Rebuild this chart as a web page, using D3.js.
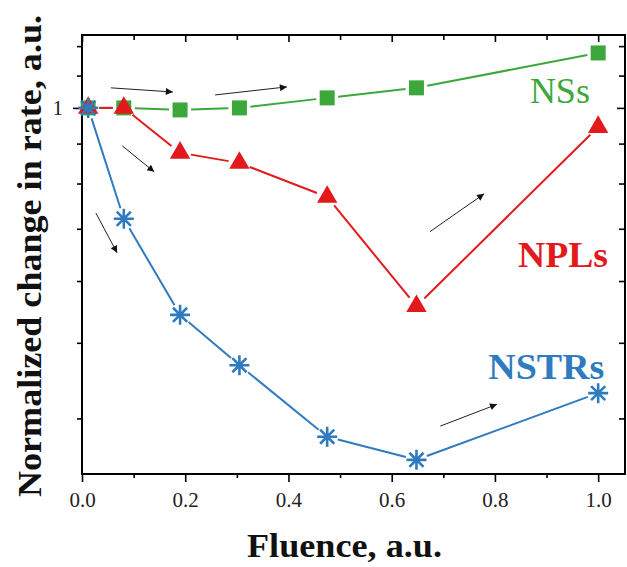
<!DOCTYPE html>
<html>
<head>
<meta charset="utf-8">
<script src="https://cdn.jsdelivr.net/npm/d3@7"></script>
<style>
  html, body { margin: 0; padding: 0; background: #fff; }
  svg { display: block; }
</style>
</head>
<body>
<svg id="chart" width="627" height="567"></svg>
<script>
// *************** DATA ***************
const fluence = [0.012, 0.081, 0.19, 0.305, 0.475, 0.648, 1.0];
const nsRate = [1.0, 1.0, 0.994, 1.0, 1.030, 1.061, 1.176];
const nplRate = [1.0, 1.0, 0.876, 0.850, 0.769, 0.557, 0.945];
const nstrRate = [1.0, 0.721, 0.543, 0.468, 0.379, 0.354, 0.431];

const xTicks = [0, 0.2, 0.4, 0.6, 0.8, 1.0];
const xMinorTicks = [0.1, 0.3, 0.5, 0.7, 0.9];
const yTicks = [1];
const yMinorTicks = [0.4, 0.5, 0.6, 0.7, 0.8, 0.9, 1.1, 1.2];

const seriesNames = ["NSs", "NPLs", "NSTRs"];

// arrows drawn in data space: [x0, y0, x1, y1]
const arrows = [
  [0.056, 1.061, 0.176, 1.048],
  [0.258, 1.039, 0.397, 1.064],
  [0.078, 0.894, 0.140, 0.828],
  [0.027, 0.733, 0.068, 0.652],
  [0.674, 0.694, 0.779, 0.776],
  [0.694, 0.391, 0.804, 0.417]
];

// label anchors (right end of text, baseline) in data space
const labelX = [0.984, 1.019, 1.012];
const labelY = [1.015, 0.625, 0.449];

// *************** CONSTANTS ***************
const margin = {top: 35, right: 2, bottom: 93, left: 82},
      width = 627,
      height = 567;

const colors = ["#3ca83c", "#e31a1c", "#2f7bc0"];
const serif = "'Liberation Serif', 'Times New Roman', serif";

const svg = d3.select("#chart");

const x = d3.scaleLinear()
            .domain([0, 1.052])
            .range([margin.left, width - margin.right]);

const y = d3.scaleLog()
            .domain([0.3395, 1.24])
            .range([height - margin.bottom, margin.top]);

// *************** AXES ***************
function styleAxis(g) {
  g.select(".domain").remove();
  g.selectAll("line").attr("stroke", "#000").attr("stroke-width", 1.6);
  g.selectAll("text")
   .attr("font-family", serif)
   .attr("font-size", "21px")
   .attr("fill", "#222");
}

const y0 = height - margin.bottom,
      x0 = margin.left,
      x1 = width - margin.right;

svg.append("g")
   .attr("transform", `translate(0,${y0})`)
   .call(d3.axisBottom(x).tickValues(xTicks).tickSize(8).tickPadding(10)
           .tickFormat(d3.format(".1f")))
   .call(styleAxis);

svg.append("g")
   .attr("transform", `translate(0,${y0})`)
   .call(d3.axisBottom(x).tickValues(xMinorTicks).tickSize(4).tickFormat(""))
   .call(styleAxis);

svg.append("g")
   .attr("transform", `translate(0,${margin.top})`)
   .call(d3.axisTop(x).tickValues(xTicks).tickSize(-7).tickFormat(""))
   .call(styleAxis);

svg.append("g")
   .attr("transform", `translate(0,${margin.top})`)
   .call(d3.axisTop(x).tickValues(xMinorTicks).tickSize(-5).tickFormat(""))
   .call(styleAxis);

svg.append("g")
   .attr("transform", `translate(${x0},0)`)
   .call(d3.axisLeft(y).tickValues(yTicks).tickSize(9).tickPadding(10)
           .tickFormat(d3.format("d")))
   .call(styleAxis);

svg.append("g")
   .attr("transform", `translate(${x0},0)`)
   .call(d3.axisLeft(y).tickValues(yMinorTicks).tickSize(5).tickFormat(""))
   .call(styleAxis);

svg.append("g")
   .attr("transform", `translate(${x1},0)`)
   .call(d3.axisRight(y).tickValues(yTicks).tickSize(-8).tickFormat(""))
   .call(styleAxis);

svg.append("g")
   .attr("transform", `translate(${x1},0)`)
   .call(d3.axisRight(y).tickValues(yMinorTicks).tickSize(-6).tickFormat(""))
   .call(styleAxis);

svg.append("rect")
   .attr("x", x0)
   .attr("y", margin.top)
   .attr("width", x1 - x0)
   .attr("height", y0 - margin.top)
   .attr("fill", "none")
   .attr("stroke", "#000")
   .attr("stroke-width", 2);

// *************** SERIES ***************
const series = [nsRate, nplRate, nstrRate].map((vals, i) => ({
  name: seriesNames[i],
  color: colors[i],
  points: fluence.map((f, j) => [x(f), y(vals[j])])
}));

const gap = 11;

function gappedSegments(points) {
  const segs = [];
  for (let i = 0; i < points.length - 1; i++) {
    const [ax, ay] = points[i], [bx, by] = points[i + 1];
    const len = Math.hypot(bx - ax, by - ay);
    if (len <= 2 * gap) continue;
    const ux = (bx - ax) / len, uy = (by - ay) / len;
    segs.push([ax + ux * gap, ay + uy * gap, bx - ux * gap, by - uy * gap]);
  }
  return segs;
}

const starR = 10, starD = starR * Math.SQRT1_2;
const starPath = `M0,${-starR}L0,${starR}M${-starR},0L${starR},0` +
                 `M${-starD},${-starD}L${starD},${starD}M${-starD},${starD}L${starD},${-starD}`;

series.forEach((s, i) => {
  const g = svg.append("g");

  g.selectAll("line")
   .data(gappedSegments(s.points))
   .join("line")
   .attr("x1", d => d[0]).attr("y1", d => d[1])
   .attr("x2", d => d[2]).attr("y2", d => d[3])
   .attr("stroke", s.color)
   .attr("stroke-width", 2);

  const marks = g.selectAll("path.mark")
                 .data(s.points)
                 .join("path")
                 .attr("class", "mark")
                 .attr("transform", d => `translate(${d[0]},${d[1]})`);

  if (i === 0) {
    marks.attr("d", d3.symbol(d3.symbolSquare, 225)).attr("fill", s.color);
  } else if (i === 1) {
    marks.attr("d", d3.symbol(d3.symbolTriangle, 180)).attr("fill", s.color);
  } else {
    marks.attr("d", starPath)
         .attr("fill", "none")
         .attr("stroke", s.color)
         .attr("stroke-width", 2.6);
  }
});

// *************** LABELS ***************
const labelWidths = [60, 90, 116];

svg.selectAll("text.series-label")
   .data(series)
   .join("text")
   .attr("class", "series-label")
   .attr("x", (d, i) => x(labelX[i]))
   .attr("y", (d, i) => y(labelY[i]))
   .attr("text-anchor", "end")
   .attr("font-family", serif)
   .attr("font-size", "35px")
   .attr("font-weight", (d, i) => i === 0 ? 400 : 700)
   .attr("fill", d => d.color)
   .attr("textLength", (d, i) => labelWidths[i])
   .attr("lengthAdjust", "spacingAndGlyphs")
   .text(d => d.name);

// *************** ARROWS ***************
svg.append("defs")
   .append("marker")
   .attr("id", "arrowhead")
   .attr("viewBox", "0 0 10 10")
   .attr("refX", 10)
   .attr("refY", 5)
   .attr("markerUnits", "userSpaceOnUse")
   .attr("markerWidth", 11)
   .attr("markerHeight", 7)
   .attr("orient", "auto")
   .append("path")
   .attr("d", "M0,0L10,5L0,10Z")
   .attr("fill", "#111");

svg.selectAll("line.arrow")
   .data(arrows)
   .join("line")
   .attr("class", "arrow")
   .attr("x1", d => x(d[0])).attr("y1", d => y(d[1]))
   .attr("x2", d => x(d[2])).attr("y2", d => y(d[3]))
   .attr("stroke", "#222")
   .attr("stroke-width", 1)
   .attr("marker-end", "url(#arrowhead)");

// *************** TITLES ***************
svg.append("text")
   .attr("x", 344.5)
   .attr("y", 557)
   .attr("text-anchor", "middle")
   .attr("font-family", serif)
   .attr("font-size", "34px")
   .attr("font-weight", 700)
   .attr("fill", "#111")
   .attr("textLength", 195)
   .attr("lengthAdjust", "spacingAndGlyphs")
   .text("Fluence, a.u.");

svg.append("text")
   .attr("transform", "translate(41,256) rotate(-90)")
   .attr("text-anchor", "middle")
   .attr("font-family", serif)
   .attr("font-size", "34px")
   .attr("font-weight", 700)
   .attr("fill", "#111")
   .attr("textLength", 482)
   .attr("lengthAdjust", "spacingAndGlyphs")
   .text("Normalized change in rate, a.u.");
</script>
</body>
</html>
